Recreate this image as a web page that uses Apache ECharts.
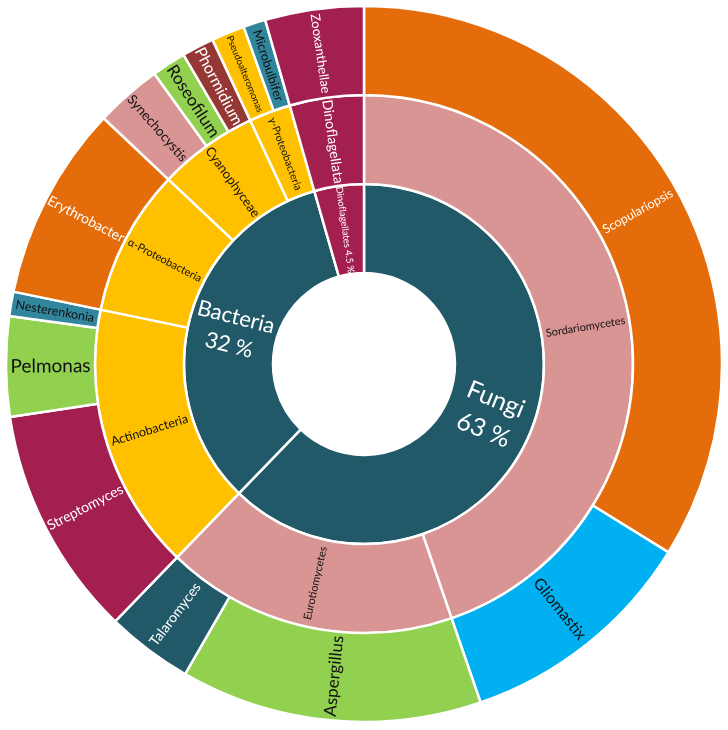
<!DOCTYPE html>
<html>
<head>
<meta charset="utf-8">
<script src="https://cdn.jsdelivr.net/npm/echarts@6/dist/echarts.min.js"></script>
<style>html,body{margin:0;padding:0;background:#fff}#c{width:728px;height:730px}</style>
</head>
<body>
<div id="c"></div>
<script>
// ---- data ----
const kingdoms = ['Fungi', 'Bacteria', 'Dinoflagellates'];
const kingdomLabels = ['Fungi\n63 %', 'Bacteria\n32 %', 'Dinoflagellates 4.5 %'];
const classes = ['Sordariomycetes', 'Eurotiomycetes', 'Actinobacteria', 'α-Proteobacteria', 'Cyanophyceae', 'γ-Proteobacteria', 'Dinoflagellata'];
const classParent = [0, 0, 1, 1, 1, 1, 2];
const genera = ['Scopulariopsis', 'Gliomastix', 'Aspergillus', 'Talaromyces', 'Streptomyces', 'Pelmonas', 'Nesterenkonia', 'Erythrobacter', 'Synechocystis', 'Roseofilum', 'Phormidium', 'Pseudoalteromonas', 'Microbulbifer', 'Zooxanthellae'];
const genusParent = [0, 0, 1, 1, 2, 2, 2, 3, 4, 4, 4, 5, 5, 6];
const genusValues = [33.8, 10.9, 13.6, 3.9, 10.4, 4.5, 1.1, 8.8, 3.0, 1.55, 1.45, 1.5, 1.0, 4.45];

// ---- styles ----
const C = {teal:'#215968', crimson:'#A31F4F', pink:'#D99594', orange:'#E46C0A', sky:'#00B0F0', green:'#92D050', yellow:'#FFC000', blue:'#31859C', brown:'#953735'};
const style = {
  'Fungi': [C.teal, '#fff', 25, 33],
  'Bacteria': [C.teal, '#fff', 22, 29],
  'Dinoflagellates': [C.crimson, '#fff', 9.5],
  'Sordariomycetes': [C.pink, '#111', 11],
  'Eurotiomycetes': [C.pink, '#111', 11],
  'Actinobacteria': [C.yellow, '#111', 12.5],
  'α-Proteobacteria': [C.yellow, '#111', 11],
  'Cyanophyceae': [C.yellow, '#111', 13],
  'γ-Proteobacteria': [C.yellow, '#111', 10.5],
  'Dinoflagellata': [C.crimson, '#fff', 14],
  'Scopulariopsis': [C.orange, '#fff', 12.5],
  'Gliomastix': [C.sky, '#111', 16],
  'Aspergillus': [C.green, '#111', 17],
  'Talaromyces': [C.teal, '#fff', 14],
  'Streptomyces': [C.crimson, '#fff', 14],
  'Pelmonas': [C.green, '#111', 19],
  'Nesterenkonia': [C.blue, '#111', 12.5],
  'Erythrobacter': [C.orange, '#fff', 14],
  'Synechocystis': [C.pink, '#111', 13.5],
  'Roseofilum': [C.green, '#111', 17],
  'Phormidium': [C.brown, '#fff', 16],
  'Pseudoalteromonas': [C.yellow, '#111', 9.5],
  'Microbulbifer': [C.blue, '#111', 12.5],
  'Zooxanthellae': [C.crimson, '#fff', 13]
};

function node(name, labelText) {
  const s = style[name];
  return {
    name: name,
    itemStyle: {color: s[0]},
    label: {color: s[1], fontSize: s[2], lineHeight: s[3] || Math.round(s[2] * 1.15), formatter: labelText || name},
    children: []
  };
}

const tree = kingdoms.map((k, i) => node(k, kingdomLabels[i]));
const classNodes = classes.map((c, i) => { const n = node(c); tree[classParent[i]].children.push(n); return n; });
genera.forEach((g, i) => {
  const n = node(g);
  n.value = genusValues[i];
  delete n.children;
  classNodes[genusParent[i]].children.push(n);
});

const chart = echarts.init(document.getElementById('c'), null, {renderer: 'canvas'});
chart.setOption({
  animation: false,
  series: [{
    type: 'sunburst',
    center: [364, 364],
    sort: null,
    startAngle: 90,
    nodeClick: false,
    data: tree,
    itemStyle: {borderColor: '#fff', borderWidth: 2.5},
    label: {rotate: 'radial', fontFamily: 'Lato, "Open Sans", sans-serif'},
    emphasis: {disabled: true},
    levels: [
      {},
      {r0: 91, r: 180},
      {r0: 180, r: 269},
      {r0: 269, r: 358}
    ]
  }]
});
</script>
</body>
</html>
